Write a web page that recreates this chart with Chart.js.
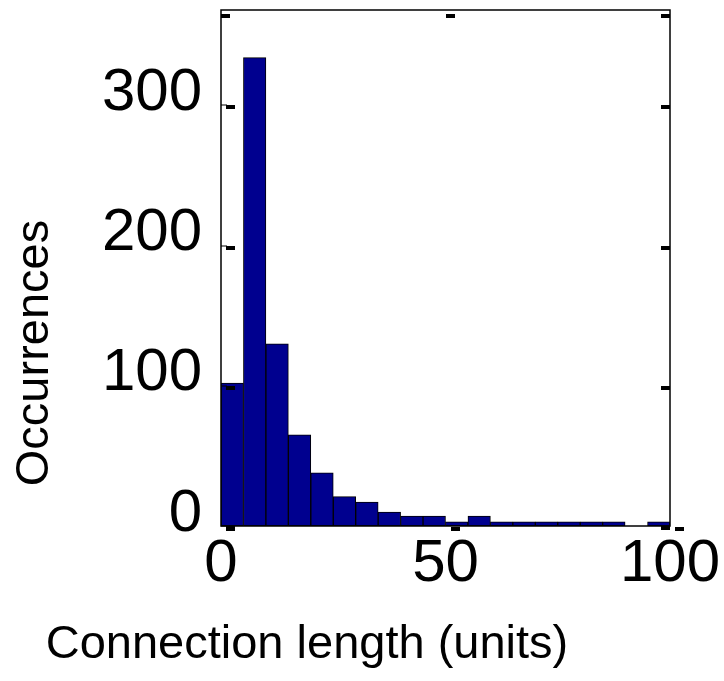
<!DOCTYPE html>
<html>
<head>
<meta charset="utf-8">
<script src="https://cdn.jsdelivr.net/npm/chart.js@4"></script>
<style>
  html, body { margin: 0; padding: 0; background: #fff; }
  #wrap { width: 724px; height: 681px; position: relative; }
</style>
</head>
<body>
<div id="wrap"><canvas id="histChart"></canvas></div>
<script>
// Connection length histogram

// ----------------------------------
// Data
// ----------------------------------
const binCenters = [2.5, 7.5, 12.5, 17.5, 22.5, 27.5, 32.5, 37.5, 42.5, 47.5,
                    52.5, 57.5, 62.5, 67.5, 72.5, 77.5, 82.5, 87.5, 92.5, 97.5];
const counts = [102, 334, 130, 65, 38, 21, 17, 10, 7, 7,
                3, 7, 3, 3, 3, 3, 3, 3, 0, 3];
const xTicks = [0, 50, 100];
const yTicks = [0, 100, 200, 300];

const xLabel = "Connection length (units)";
const yLabel = "Occurrences";

const FONT = "'Liberation Sans', Arial, Helvetica, sans-serif";

// ----------------------------------
// Box, inward ticks and axis titles
// ----------------------------------
const frame = {
  id: "frame",
  afterDatasetsDraw(chart) {
    const { ctx, chartArea: a, scales } = chart;
    const x = scales.x, y = scales.y;
    ctx.save();
    ctx.strokeStyle = "#000";
    ctx.lineWidth = 1.5;
    ctx.strokeRect(a.left, a.top, a.right - a.left, a.bottom - a.top);

    ctx.fillStyle = "#000";
    yTicks.forEach(v => {
      const py = Math.round(y.getPixelForValue(v));
      ctx.fillRect(a.left + 5, py, 9, 4);
      ctx.fillRect(a.right - 9, py, 9, 4);
      ctx.fillRect(a.left, py - 0.5, 6, 1);
    });
    xTicks.forEach(v => {
      const px = Math.round(x.getPixelForValue(v));
      ctx.fillRect(Math.min(px, a.right - 9), a.top + 4, 9, 4);
      ctx.fillRect(px + 5, a.bottom + 1, 9, 4);
    });
    ctx.restore();
  },
  afterDraw(chart) {
    const { ctx } = chart;
    ctx.save();
    ctx.fillStyle = "#000";
    ctx.font = "47px " + FONT;
    ctx.textAlign = "center";
    ctx.textBaseline = "alphabetic";
    ctx.fillText(xLabel, 307, 658);

    ctx.translate(48, 353);
    ctx.rotate(-Math.PI / 2);
    ctx.fillText(yLabel, 0, 0);
    ctx.restore();
  }
};

// ----------------------------------
// Chart
// ----------------------------------
new Chart(document.getElementById("histChart"), {
  type: "bar",
  data: {
    datasets: [{
      data: binCenters.map((c, i) => ({ x: c, y: counts[i] })),
      backgroundColor: "#00008f",
      borderColor: "#000",
      borderWidth: 1,
      borderSkipped: false,
      barPercentage: 1,
      categoryPercentage: 1
    }]
  },
  options: {
    responsive: true,
    maintainAspectRatio: false,
    animation: false,
    layout: { padding: { top: 10, right: 54, left: 0, bottom: 0 } },
    plugins: {
      legend: { display: false },
      tooltip: { enabled: false }
    },
    scales: {
      x: {
        type: "linear",
        min: 0,
        max: 100,
        offset: false,
        grid: { display: false, drawTicks: false },
        border: { display: false },
        afterBuildTicks: s => { s.ticks = xTicks.map(v => ({ value: v })); },
        afterFit: s => {
          s.height = 155;
          s.paddingLeft = 0;
          s.paddingRight = 0;
        },
        ticks: {
          color: "#000",
          padding: 2,
          maxRotation: 0,
          autoSkip: false,
          font: { family: FONT, size: 60 }
        }
      },
      y: {
        min: 0,
        max: 368,
        grid: { display: false, drawTicks: false },
        border: { display: false },
        afterBuildTicks: s => { s.ticks = yTicks.map(v => ({ value: v })); },
        afterFit: s => {
          s.width = 221;
          s.paddingTop = 0;
          s.paddingBottom = 0;
        },
        ticks: {
          color: "#000",
          padding: 19,
          labelOffset: -12,
          font: { family: FONT, size: 60 }
        }
      }
    }
  },
  plugins: [frame]
});
</script>
</body>
</html>
